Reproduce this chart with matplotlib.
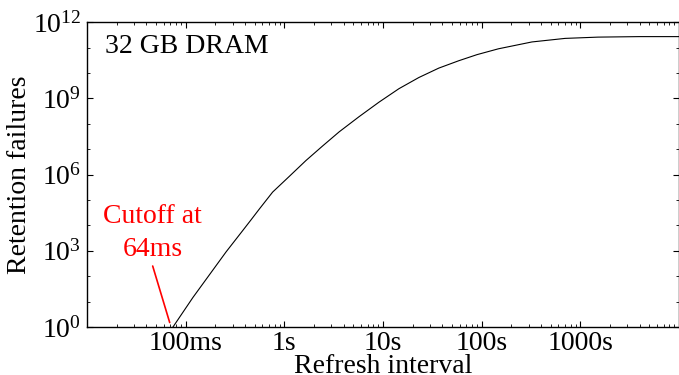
import matplotlib
matplotlib.use("Agg")
import matplotlib.pyplot as plt
from matplotlib.ticker import FixedLocator, LogLocator, NullFormatter, FixedFormatter
import numpy as np

# refresh interval (s) vs. expected retention failures
interval_s = [0.0745, 0.1186, 0.1778, 0.2576, 0.380, 0.461, 0.558, 0.762,
              1.125, 1.656, 2.438, 3.597, 5.728, 9.12, 14.52, 23.12, 36.81,
              58.61, 89.74, 147.9, 323.6, 701.5, 1514, 3981, 10000]
failures = [1.0, 14.5, 126, 912, 6310, 1.66e4, 4.37e4, 2.04e5,
            8.5e5, 3.55e6, 1.32e7, 4.79e7, 1.9e8, 7.08e8, 2.40e9, 6.61e9, 1.55e10,
            3.02e10, 5.25e10, 8.91e10, 1.66e11, 2.29e11, 2.57e11, 2.69e11, 2.69e11]

x_ticks = [0.1, 1, 10, 100, 1000]
x_labels = ["100ms", "1s", "10s", "100s", "1000s"]
y_ticks = [1, 1e3, 1e6, 1e9, 1e12]

plt.rcParams.update({
    "font.family": "Liberation Serif",
    "font.size": 20,
    "mathtext.fontset": "custom",
    "mathtext.rm": "Liberation Serif",
    "mathtext.it": "Liberation Serif:italic",
    "axes.linewidth": 1.0,
    "xtick.direction": "in", "ytick.direction": "in",
    "xtick.top": True, "ytick.right": True,
    "xtick.major.size": 4, "ytick.major.size": 4,
    "xtick.minor.size": 2, "ytick.minor.size": 2.5,
    "xtick.major.pad": 3, "ytick.major.pad": 4,
})

fig = plt.figure(figsize=(6.79, 3.75), dpi=100)
ax = fig.add_axes([0.128, 0.128, 0.872, 0.813])

ax.plot(interval_s, failures, color="black", linewidth=0.8)
ax.set_xscale("log")
ax.set_yscale("log")
ax.set_xlim(0.01, 10000)
ax.set_ylim(1, 1e12)

ax.xaxis.set_major_locator(FixedLocator(x_ticks))
ax.xaxis.set_major_formatter(FixedFormatter(x_labels))
ax.xaxis.set_minor_locator(LogLocator(base=10, subs=np.arange(2, 10)))
ax.xaxis.set_minor_formatter(NullFormatter())
ax.yaxis.set_major_locator(FixedLocator(y_ticks))
ax.yaxis.set_major_formatter(plt.FuncFormatter(
    lambda v, _: r"$10^{%d}$" % round(np.log10(v))))
ax.yaxis.set_minor_locator(LogLocator(base=10, subs=[1.0], numticks=20))
ax.yaxis.set_minor_formatter(NullFormatter())

ax.set_xlabel("Refresh interval", labelpad=-1.5)
ax.set_ylabel("Retention failures", labelpad=1)

ax.text(0.03, 0.96, "32 GB DRAM", transform=ax.transAxes,
        ha="left", va="top", fontsize=20)
ax.text(0.046, 5000, "Cutoff at\n64ms", color="red", ha="center",
        va="center", fontsize=20, linespacing=1.4)
ax.annotate("", xy=(0.069, 1.5), xytext=(0.0464, 251),
            arrowprops=dict(arrowstyle="-", color="red", lw=1.2,
                            shrinkA=0, shrinkB=0))

fig.savefig("out.png", dpi=100, facecolor="white")
